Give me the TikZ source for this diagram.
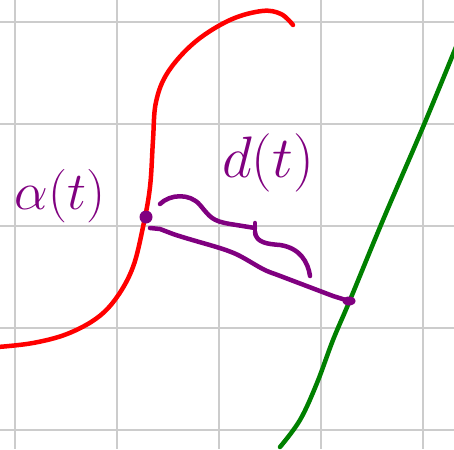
\documentclass[tikz,border=0pt]{standalone}
\definecolor{gridgray}{RGB}{204,204,204}
\definecolor{inkred}{RGB}{255,0,0}
\definecolor{inkgreen}{RGB}{0,128,0}
\definecolor{inkpurple}{RGB}{128,0,128}
\begin{document}
\begin{tikzpicture}[x=1pt,y=-1pt,
  gridline/.style={draw=gridgray,line width=2.2pt},
  ink/.style={line width=4.5pt,line cap=round,line join=round},
  redink/.style={ink,draw=inkred},
  greenink/.style={ink,draw=inkgreen},
  purpleink/.style={ink,draw=inkpurple},
  lbl/.style={text=inkpurple,inner sep=0pt,font=\Huge}]
\useasboundingbox (0,0) rectangle (454,449);
\fill[white] (0,0) rectangle (454,449);
\begin{scope}
\clip (0,0) rectangle (454,449);
\foreach \x in {15,117,219,321,423} \draw[gridline] (\x,0) -- (\x,449);
\foreach \y in {22,124,226,328,430} \draw[gridline] (0,\y) -- (454,\y);
\end{scope}
% red curve
\draw[redink] plot[smooth,tension=0.6] coordinates {(-2,347) (33,343) (67,334) (97,318) (117,297) (133,267) (143,227) (150,187) (153,140) (156,102) (168,72) (195,42) (230,20) (262,11) (281,14) (293,25)};
% green line
\draw[greenink] plot[smooth,tension=0.6] coordinates {(280,447) (300,420) (317,383) (333,340) (350,300) (383,220) (423,127) (456,47)};
% points
\coordinate (A) at (146,217);
\coordinate (B) at (349,301);
\fill[inkpurple] (A) circle (6.5pt);
\fill[inkpurple] (B) ellipse (6.5pt and 4.5pt);
% distance segment
\draw[purpleink] (150,228) -- (160,229) -- (173,234) .. controls (200,243) and (225,248) .. (240,256) .. controls (255,264) and (262,270) .. (275,274) -- (333,296) -- (B);
% brace
\draw[purpleink] (160,204) .. controls (170,194) and (190,193) .. (200,205) .. controls (210,217) and (212,221) .. (230,224) -- (255,228);
\draw[purpleink] (255,223) -- (255,234);
\draw[purpleink] (255,232) .. controls (256,243) and (268,244) .. (280,245) .. controls (300,248) and (308,262) .. (310,276);
% labels
\node[lbl,scale=2.15] (alpha) at (60,196) {$\alpha(t)$};
\node[lbl,scale=2.35] (dist) at (268,163) {$d(t)$};
\end{tikzpicture}
\end{document}
